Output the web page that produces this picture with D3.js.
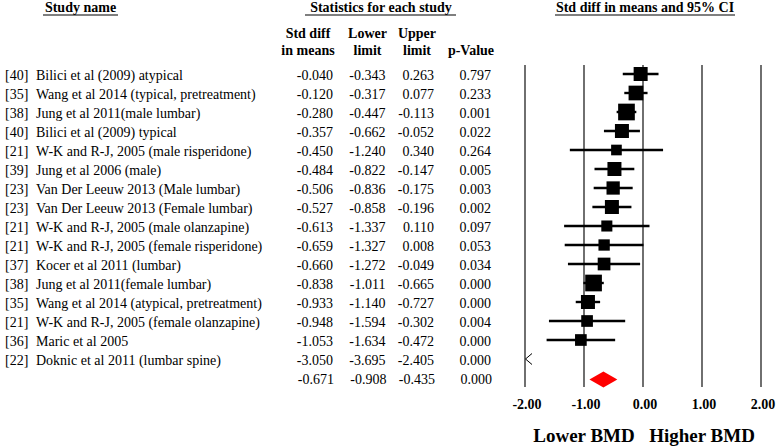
<!DOCTYPE html>
<html><head><meta charset="utf-8">
<script src="https://cdn.jsdelivr.net/npm/d3@7"></script>
<style>
html,body{margin:0;padding:0;background:#fff;}
svg{display:block;font-family:"Liberation Serif","Times New Roman",serif;}
</style></head>
<body>
<svg id="chart" width="777" height="446"></svg>
<script>
const refs = ["[40]","[35]","[38]","[40]","[21]","[39]","[23]","[23]","[21]","[21]","[37]","[38]","[35]","[21]","[36]","[22]"];
const names = ["Bilici et al (2009) atypical","Wang et al 2014 (typical, pretreatment)","Jung et al 2011(male lumbar)","Bilici et al (2009) typical","W-K and R-J, 2005 (male risperidone)","Jung et al 2006 (male)","Van Der Leeuw 2013 (Male lumbar)","Van Der Leeuw 2013 (Female lumbar)","W-K and R-J, 2005 (male olanzapine)","W-K and R-J, 2005 (female risperidone)","Kocer et al 2011 (lumbar)","Jung et al 2011(female lumbar)","Wang et al 2014 (atypical, pretreatment)","W-K and R-J, 2005 (female olanzapine)","Maric et al 2005","Doknic et al 2011 (lumbar spine)"];
const smd   = [-0.040,-0.120,-0.280,-0.357,-0.450,-0.484,-0.506,-0.527,-0.613,-0.659,-0.660,-0.838,-0.933,-0.948,-1.053,-3.050];
const lower = [-0.343,-0.317,-0.447,-0.662,-1.240,-0.822,-0.836,-0.858,-1.337,-1.327,-1.272,-1.011,-1.140,-1.594,-1.634,-3.695];
const upper = [0.263,0.077,-0.113,-0.052,0.340,-0.147,-0.175,-0.196,0.110,0.008,-0.049,-0.665,-0.727,-0.302,-0.472,-2.405];
const pval  = [0.797,0.233,0.001,0.022,0.264,0.005,0.003,0.002,0.097,0.053,0.034,0.000,0.000,0.004,0.000,0.000];
const weights = [6.9,7.6,9.8,6.9,4.0,6.9,6.2,6.9,4.3,4.5,5.7,9.8,6.9,4.8,4.8,4.0];
const summary = {smd:-0.671, lower:-0.908, upper:-0.435, p:0.000};
const xTicks = [-2,-1,0,1,2];
const xTickLabels = ["-2.00","-1.00","0.00","1.00","2.00"];
const directionLabels = [{v:-1, t:"Lower BMD"},{v:1, t:"Higher BMD"}];

const svg = d3.select("#chart");
const x = d3.scaleLinear().domain([-2,2]).range([525,761]);
const y = d3.scaleLinear().domain([0,16]).range([74,378]);
const size = d3.scaleSqrt().domain([0,6.9]).range([0,14]);
const fmt = v => d3.format(".3f")(v).replace("\u2212","-");
const fs = 14;

// Headers
function header(txt, cx, x1, x2){
  svg.append("text").attr("x",cx).attr("y",12).attr("text-anchor","middle")
    .attr("font-weight","bold").attr("font-size",14).text(txt);
  svg.append("line").attr("x1",x1).attr("x2",x2).attr("y1",15).attr("y2",15)
    .attr("stroke","#000").attr("stroke-width",1.2);
}
header("Study name", 80.5, 43, 118);
header("Statistics for each study", 381, 305, 456);
header("Std diff in means and 95% CI", 645, 555, 735);

const sub = [
  {cx:308, lines:["Std diff","in means"]},
  {cx:367.5, lines:["Lower","limit"]},
  {cx:417, lines:["Upper","limit"]},
  {cx:471, lines:[null,"p-Value"]}
];
sub.forEach(s=>{
  s.lines.forEach((l,i)=>{
    if(!l) return;
    svg.append("text").attr("x",s.cx).attr("y",38+i*17).attr("text-anchor","middle")
      .attr("font-weight","bold").attr("font-size",14).text(l);
  });
});

// Grid lines
svg.append("g").selectAll("line").data(xTicks).join("line")
  .attr("x1",d=>x(d)).attr("x2",d=>x(d)).attr("y1",65).attr("y2",387)
  .attr("stroke","#333").attr("stroke-width",1.4);

// Tick labels
svg.append("g").selectAll("text").data(xTicks).join("text")
  .attr("x",(d)=>x(d)+2).attr("y",408.5).attr("text-anchor","middle")
  .attr("font-weight","bold").attr("font-size",14).text((d,i)=>xTickLabels[i]);

svg.append("g").selectAll("text").data(directionLabels).join("text")
  .attr("x",d=>x(d.v)).attr("y",441.5).attr("text-anchor","middle")
  .attr("font-weight","bold").attr("font-size",19).text(d=>d.t);

// Table rows
const rows = d3.range(names.length);
const colRight = [333, 385.5, 434, 491];
const tg = svg.append("g").attr("font-size",fs);
rows.forEach(i=>{
  const by = y(i)+6;
  tg.append("text").attr("x",5).attr("y",by).text(refs[i]);
  tg.append("text").attr("x",36).attr("y",by).text(names[i]);
  [smd[i],lower[i],upper[i],pval[i]].forEach((v,j)=>{
    tg.append("text").attr("x",colRight[j]).attr("y",by).attr("text-anchor","end").text(fmt(v));
  });
});
const sby = y(16)+6;
[summary.smd,summary.lower,summary.upper,summary.p].forEach((v,j)=>{
  tg.append("text").attr("x",colRight[j]+1).attr("y",sby).attr("text-anchor","end").text(fmt(v));
});

// Forest marks
const mg = svg.append("g");
rows.forEach(i=>{
  const cy = y(i);
  if(upper[i] < -2){
    const ax = x(-2);
    mg.append("path").attr("d",`M${ax+7},${cy-5.5} L${ax+0.5},${cy} L${ax+7},${cy+5.5}`)
      .attr("fill","none").attr("stroke","#000").attr("stroke-width",1);
    return;
  }
  mg.append("line").attr("x1",x(Math.max(lower[i],-2))).attr("x2",x(Math.min(upper[i],2)))
    .attr("y1",cy).attr("y2",cy).attr("stroke","#000").attr("stroke-width",2.4);
  const s = size(weights[i]);
  mg.append("rect").attr("x",x(smd[i])-s/2).attr("y",cy-s/2).attr("width",s).attr("height",s).attr("fill","#000");
});
const dy = y(16)+1.5;
mg.append("path")
  .attr("d",`M${x(summary.lower)},${dy} L${x(summary.smd)},${dy-8} L${x(summary.upper)},${dy} L${x(summary.smd)},${dy+8} Z`)
  .attr("fill","#ff0000");
</script>
</body></html>
